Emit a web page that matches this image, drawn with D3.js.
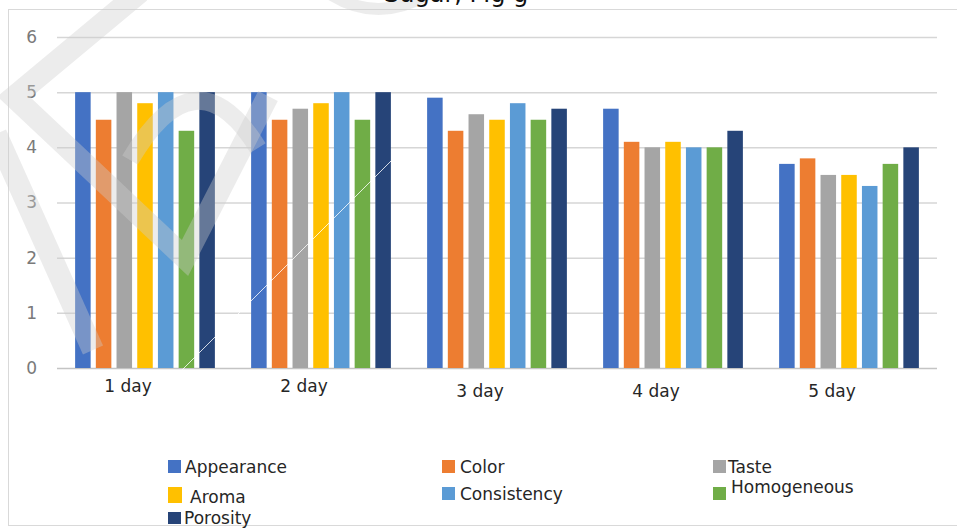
<!DOCTYPE html>
<html>
<head>
<meta charset="utf-8">
<script src="https://cdn.jsdelivr.net/npm/d3@7"></script>
<style>
  html, body { margin: 0; padding: 0; background: #fff; }
  svg { display: block; }
  text { font-family: "DejaVu Sans", sans-serif; }
</style>
</head>
<body>
<svg id="chart" width="957" height="528"></svg>
<script>
// Sensory scores by storage day
const days = ["1 day", "2 day", "3 day", "4 day", "5 day"];
const attributes = ["Appearance", "Color", "Taste", "Aroma", "Consistency", "Homogeneous", "Porosity"];
const appearance  = [5.0, 5.0, 4.9, 4.7, 3.7];
const color       = [4.5, 4.5, 4.3, 4.1, 3.8];
const taste       = [5.0, 4.7, 4.6, 4.0, 3.5];
const aroma       = [4.8, 4.8, 4.5, 4.1, 3.5];
const consistency = [5.0, 5.0, 4.8, 4.0, 3.3];
const homogeneous = [4.3, 4.5, 4.5, 4.0, 3.7];
const porosity    = [5.0, 5.0, 4.7, 4.3, 4.0];
const yTicks = [0, 1, 2, 3, 4, 5, 6];
const palette = ["#4472C4", "#ED7D31", "#A5A5A5", "#FFC000", "#5B9BD5", "#70AD47", "#264478"];

const seriesValues = [appearance, color, taste, aroma, consistency, homogeneous, porosity];
const rows = days.map((d, i) => {
  const r = { day: d };
  attributes.forEach((a, j) => { r[a] = seriesValues[j][i]; });
  return r;
});

const svg = d3.select("#chart");
const plotLeft = 57, plotRight = 937, plotTop = 37, plotBottom = 368;

// outer frame
svg.append("rect")
  .attr("x", 8.5).attr("y", 9.5).attr("width", 960).attr("height", 516)
  .attr("fill", "none").attr("stroke", "#d9d9d9").attr("stroke-width", 1);

const x0 = d3.scaleBand().domain(days).range([plotLeft, plotRight]);
const x1 = d3.scaleBand().domain(attributes).range([0, x0.bandwidth()])
  .paddingInner(0.25).paddingOuter(0.875);
const y = d3.scaleLinear().domain([0, 6]).range([plotBottom, plotTop]);
const fill = d3.scaleOrdinal().domain(attributes).range(palette);

// value axis with gridlines
const yAxis = svg.append("g")
  .attr("transform", `translate(${plotLeft},0)`)
  .call(d3.axisLeft(y).tickValues(yTicks).tickSize(-(plotRight - plotLeft)).tickPadding(20).tickFormat(d3.format("d")));
yAxis.select(".domain").remove();
yAxis.selectAll(".tick line")
  .attr("stroke", d => d === 0 ? "#c4c4c4" : "#d6d6d6")
  .attr("stroke-width", 1.5);
yAxis.selectAll(".tick text")
  .attr("fill", "#7a7a7a").attr("font-size", 17);

// clustered bars
svg.append("g").selectAll("g")
  .data(rows).join("g")
  .attr("transform", d => `translate(${x0(d.day)},0)`)
  .selectAll("rect")
  .data(d => attributes.map(a => ({ key: a, value: d[a] })))
  .join("rect")
  .attr("x", d => x1(d.key))
  .attr("width", x1.bandwidth())
  .attr("y", d => y(d.value))
  .attr("height", d => y(0) - y(d.value))
  .attr("fill", d => fill(d.key));

// category labels
const xAxis = svg.append("g")
  .attr("transform", `translate(0,${plotBottom})`)
  .call(d3.axisBottom(x0).tickSize(0).tickPadding(0));
xAxis.select(".domain").remove();
xAxis.selectAll(".tick text")
  .attr("fill", "#262626").attr("font-size", 17)
  .attr("dx", -17).attr("dy", (d, i) => i < 2 ? 24 : 29);

// faint logo overlay
const wm = svg.append("g").attr("fill", "none")
  .attr("stroke", "rgb(205,205,205)").attr("stroke-opacity", 0.38)
  .attr("stroke-linejoin", "miter").attr("stroke-linecap", "butt");
wm.append("path").attr("d", "M140,-8 L14,97 L185,258 L268,96").attr("stroke-width", 22);
wm.append("path").attr("d", "M-4,134 L93,350").attr("stroke-width", 22);
wm.append("path").attr("d", "M130,160 Q196,48 258,148").attr("stroke-width", 18);
wm.append("path").attr("d", "M330,-6 Q378,24 428,-6").attr("stroke-width", 12);
svg.append("path").attr("d", "M180,372 L400,152")
  .attr("stroke", "#fff").attr("stroke-width", 1).attr("stroke-opacity", 0.8);

// text running into the top edge
svg.append("text")
  .attr("x", 384).attr("y", 2)
  .attr("font-family", "'Liberation Serif', serif").attr("font-size", 24)
  .attr("fill", "#111").text("Sugar, Mg g");

// legend
const legendLayout = {
  "Appearance":  { sx: 168, sy: 460, sw: 13, sh: 13, tx: 185, ty: 473 },
  "Color":       { sx: 442, sy: 460, sw: 13, sh: 13, tx: 460, ty: 473 },
  "Taste":       { sx: 713, sy: 460, sw: 13, sh: 13, tx: 728, ty: 473 },
  "Aroma":       { sx: 168, sy: 487, sw: 14, sh: 16, tx: 190, ty: 503 },
  "Consistency": { sx: 442, sy: 487, sw: 13, sh: 13, tx: 460, ty: 500 },
  "Homogeneous": { sx: 713, sy: 487, sw: 13, sh: 13, tx: 731, ty: 493 },
  "Porosity":    { sx: 168, sy: 512, sw: 13, sh: 12, tx: 184, ty: 524 }
};
const legend = svg.append("g").selectAll("g").data(attributes).join("g");
legend.append("rect")
  .attr("x", d => legendLayout[d].sx).attr("y", d => legendLayout[d].sy)
  .attr("width", d => legendLayout[d].sw).attr("height", d => legendLayout[d].sh)
  .attr("fill", d => fill(d));
legend.append("text")
  .attr("x", d => legendLayout[d].tx).attr("y", d => legendLayout[d].ty)
  .attr("font-size", 17).attr("fill", "#262626")
  .text(d => d);
</script>
</body>
</html>
